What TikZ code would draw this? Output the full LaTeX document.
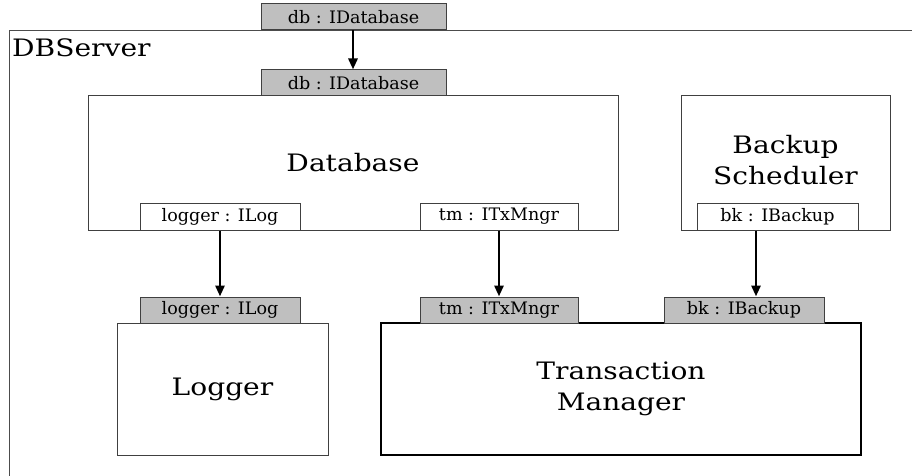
\documentclass[tikz,border=0pt]{standalone}
\usepackage{fontspec}
\usepackage{graphicx}
\setmainfont{DejaVu Serif}
\usetikzlibrary{arrows.meta}
% slightly widened lettering
\newcommand\widetext[1]{\scalebox{1.17}[1]{#1}}
\newcommand\porttext[1]{\scalebox{1.02}[1]{#1}}
\newcommand\twolines[2]{\widetext{\begin{tabular}{@{}c@{}}#1\\#2\end{tabular}}}
\tikzset{
  comp/.style={draw=black!75, line width=1pt, fill=white, inner sep=0pt,
    font=\fontsize{24}{31}\selectfont},
  mainpart/.style={comp, draw=black, line width=2pt},
  portreq/.style={draw=black!75, line width=1pt, fill=white, inner sep=0pt,
    minimum height=27pt, font=\fontsize{17.2}{20}\selectfont},
  portprov/.style={portreq, fill=black!25},
  wire/.style={line width=2.8pt, -{Triangle[length=11pt,width=9pt]}},
  frame/.style={draw=black!70, line width=1pt}
}
\begin{document}
\begin{tikzpicture}[x=1pt, y=-1pt]
  \useasboundingbox (0,0) rectangle (912,476);
  \clip (0,0) rectangle (912,476);

  % enclosing component
  \draw[frame] (9,31) rectangle (940,520);
  \node[anchor=base west, inner sep=0pt, font=\fontsize{24}{31}\selectfont]
    (srvname) at (12,57) {\widetext{DBServer}};

  % inner components
  \node[comp, minimum width=530pt, minimum height=134pt] (dbase) at (353,163)
    {\widetext{Database}};
  \node[comp, minimum width=209pt, minimum height=134pt] (backup) at (785.5,163)
    {\twolines{Backup}{Scheduler}};
  \node[comp, minimum width=211pt, minimum height=132pt] (logger) at (222.5,389)
    {\widetext{Logger}};
  \node[mainpart, minimum width=480pt, minimum height=132pt] (txm) at (621,389)
    {\twolines{Transaction}{Manager}};

  % ports
  \node[portprov, minimum width=185pt, minimum height=26pt] (dbouter) at (353.5,17)
    {\porttext{db : IDatabase}};
  \node[portprov, minimum width=185pt, minimum height=26pt] (dbinner) at (353.5,83)
    {\porttext{db : IDatabase}};
  \node[portreq, minimum width=160pt] (logreq) at (220,216.5)
    {\porttext{logger : ILog}};
  \node[portreq, minimum width=158pt] (tmreq) at (499,216.5)
    {\porttext{tm : ITxMngr}};
  \node[portreq, minimum width=161pt] (bkreq) at (777.5,216.5)
    {\porttext{bk : IBackup}};
  \node[portprov, minimum width=160pt, minimum height=26pt] (logprov) at (220,310)
    {\porttext{logger : ILog}};
  \node[portprov, minimum width=158pt, minimum height=26pt] (tmprov) at (499,310)
    {\porttext{tm : ITxMngr}};
  \node[portprov, minimum width=160pt, minimum height=26pt] (bkprov) at (744,310)
    {\porttext{bk : IBackup}};

  % connectors
  \coordinate (dbx) at (353,0);
  \coordinate (bkx) at (756,0);
  \draw[wire] (dbouter.south -| dbx) -- (dbinner.north -| dbx);
  \draw[wire] (logreq.south) -- (logprov.north);
  \draw[wire] (tmreq.south) -- (tmprov.north);
  \draw[wire] (bkreq.south -| bkx) -- (bkprov.north -| bkx);
\end{tikzpicture}
\end{document}
